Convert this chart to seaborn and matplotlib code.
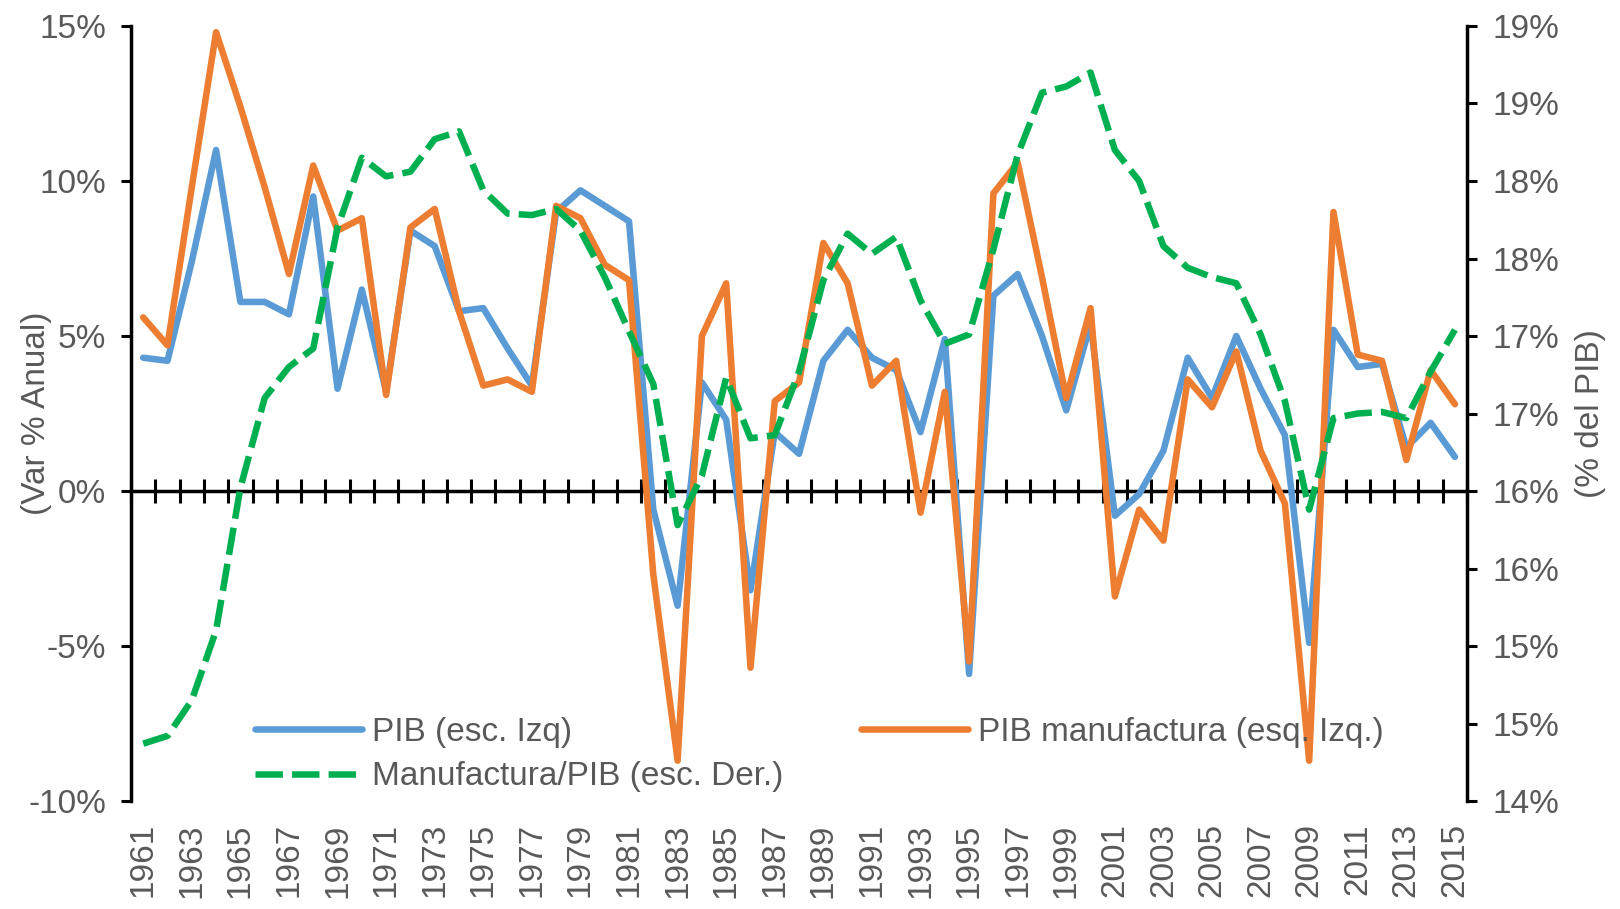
import numpy as np
import matplotlib
matplotlib.use("Agg")
import matplotlib.pyplot as plt
import seaborn as sns

# data
years = list(range(1961, 2016))

pib = [4.3, 4.2, 7.4, 11.0, 6.1, 6.1, 5.7, 9.5, 3.3, 6.5,
       3.2, 8.4, 7.9, 5.8, 5.9, 4.6, 3.4, 9.0, 9.7, 9.2,
       8.7, -0.6, -3.7, 3.5, 2.3, -3.2, 1.9, 1.2, 4.2, 5.2,
       4.3, 3.9, 1.9, 4.9, -5.9, 6.3, 7.0, 5.0, 2.6, 5.4,
       -0.8, -0.1, 1.3, 4.3, 3.0, 5.0, 3.3, 1.8, -4.9, 5.2,
       4.0, 4.1, 1.4, 2.2, 1.1]

pib_manuf = [5.6, 4.7, 9.8, 14.8, 12.4, 9.8, 7.0, 10.5, 8.4, 8.8,
             3.1, 8.5, 9.1, 5.8, 3.4, 3.6, 3.2, 9.2, 8.8, 7.3,
             6.8, -2.7, -8.7, 5.0, 6.7, -5.7, 2.9, 3.5, 8.0, 6.7,
             3.4, 4.2, -0.7, 3.2, -5.5, 9.6, 10.6, 6.9, 3.0, 5.9,
             -3.4, -0.6, -1.6, 3.6, 2.7, 4.5, 1.3, -0.4, -8.7, 9.0,
             4.4, 4.2, 1.0, 3.9, 2.8]

manuf_share = [14.37, 14.42, 14.65, 15.1, 16.02, 16.6, 16.8, 16.92, 17.7, 18.15,
               18.03, 18.06, 18.27, 18.32, 17.94, 17.79, 17.78, 17.82, 17.68, 17.38,
               17.03, 16.69, 15.78, 16.1, 16.73, 16.34, 16.36, 16.77, 17.36, 17.66,
               17.53, 17.64, 17.23, 16.95, 17.01, 17.56, 18.17, 18.57, 18.61, 18.7,
               18.2, 18.0, 17.58, 17.44, 17.38, 17.34, 17.01, 16.58, 15.88, 16.47,
               16.5, 16.51, 16.47, 16.77, 17.04]

left_ticks = [-10, -5, 0, 5, 10, 15]
left_tick_labels = ["-10%", "-5%", "0%", "5%", "10%", "15%"]
right_ticks = [14, 14.5, 15, 15.5, 16, 16.5, 17, 17.5, 18, 18.5, 19]
right_tick_labels = ["14%", "15%", "15%", "16%", "16%", "17%", "17%", "18%", "18%", "19%", "19%"]
year_ticks = years[::2]

label_pib = "PIB (esc. Izq)"
label_manuf = "PIB manufactura (esq. Izq.)"
label_share = "Manufactura/PIB (esc. Der.)"

BLUE = "#5B9BD5"
ORANGE = "#ED7D31"
GREEN = "#00B050"
GREY = "#595959"
FS = 24

sns.set_style("white")
plt.rcParams["font.family"] = ["Liberation Sans Narrow", "Liberation Sans", "DejaVu Sans"]
plt.rcParams["text.color"] = GREY
plt.rcParams["axes.labelcolor"] = GREY

fig = plt.figure(figsize=(16.2, 9.09), dpi=100)
ax = fig.add_axes([0.0809, 0.1188, 0.8247, 0.8526])
ax2 = ax.twinx()

sns.lineplot(x=years, y=pib, ax=ax, color=BLUE, linewidth=4.7, label=label_pib)
sns.lineplot(x=years, y=pib_manuf, ax=ax, color=ORANGE, linewidth=4.7, label=label_manuf)
sns.lineplot(x=years, y=manuf_share, ax=ax2, color=GREEN, linewidth=4.7, label=label_share)
ax2.lines[-1].set_dashes((4.2, 1.4))
for line in ax.lines + ax2.lines:
    line.set_solid_joinstyle("round")
    line.set_dash_joinstyle("round")

ax.set_xlim(years[0] - 0.5, years[-1] + 0.5)
ax.set_ylim(-10, 15)
ax2.set_ylim(14, 19)

# left axis
ax.set_yticks(left_ticks, left_tick_labels)
ax.tick_params(axis="y", direction="out", length=7, width=2.2, color="black",
               labelsize=FS, labelcolor=GREY, pad=11, left=True)
ax.set_xticks(year_ticks, [str(y) for y in year_ticks], rotation=90)
ax.tick_params(axis="x", length=0, labelsize=FS, labelcolor=GREY, pad=16)
for side in ["top", "bottom", "right"]:
    ax.spines[side].set_visible(False)
ax.spines["left"].set_color("black")
ax.spines["left"].set_linewidth(2.5)
ax.set_ylabel("(Var % Anual)", fontsize=FS, color=GREY)
ax.yaxis.set_label_coords(-0.059, 0.5)

# right axis
ax2.set_yticks(right_ticks, right_tick_labels)
ax2.tick_params(axis="y", direction="out", length=7, width=2.2, color="black",
                labelsize=FS, labelcolor=GREY, pad=11, right=True)
for side in ["top", "bottom", "left"]:
    ax2.spines[side].set_visible(False)
ax2.spines["right"].set_color("black")
ax2.spines["right"].set_linewidth(2.5)
ax2.set_ylabel("(% del PIB)", fontsize=FS, color=GREY, rotation=90)
ax2.yaxis.set_label_coords(1.081, 0.5)

# zero line with category tick marks
zero_pos = (0 - ax.get_ylim()[0]) / (ax.get_ylim()[1] - ax.get_ylim()[0])
secax = ax.secondary_xaxis(zero_pos)
secax.set_xticks([y - 0.5 for y in years] + [years[-1] + 0.5], [])
secax.tick_params(direction="inout", length=17, width=2.2, color="black")
secax.spines["bottom"].set_color("black")
secax.spines["bottom"].set_linewidth(2.5)

# legend
ax.get_legend().remove()
ax2.get_legend().remove()
h_pib, h_manuf = ax.lines[:2]
h_share = ax2.lines[0]
leg = ax2.legend([h_pib, h_share, h_manuf], [label_pib, label_share, label_manuf],
                 ncol=2, frameon=False, fontsize=FS, loc="upper left",
                 bbox_to_anchor=(255 / 1620, 1 - 717 / 909), bbox_transform=fig.transFigure,
                 borderpad=0, borderaxespad=0, handlelength=3.2, handletextpad=0.3,
                 columnspacing=2.35, labelspacing=0.4)
for t in leg.get_texts():
    t.set_color(GREY)

fig.savefig("out.png", dpi=100)
